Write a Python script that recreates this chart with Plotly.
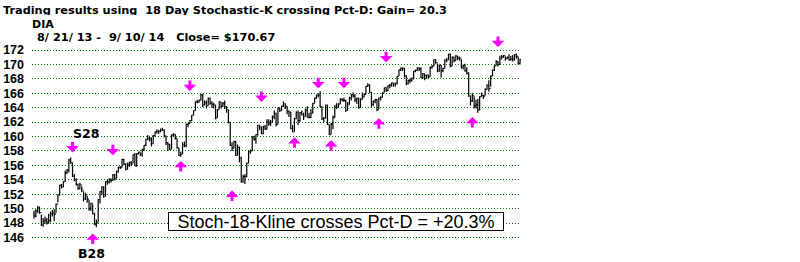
import plotly.graph_objects as go

# ---- DIA daily bars, 8/21/13 - 9/10/14 ----
opens = [149.30, 148.98, 149.64, 150.11, 149.46, 147.76, 148.25, 148.41,
         148.10, 148.34, 149.31, 149.37, 149.23, 150.63, 151.91, 153.27, 153.01, 153.76, 154.95, 155.30,
         156.77, 156.37, 154.51, 154.01, 153.35, 152.73, 153.28, 152.58,
         151.30, 151.92, 151.33, 149.96, 150.73, 149.36, 147.77, 148.03, 151.26, 152.37, 153.01, 151.68,
         153.74, 153.72, 154.00, 153.92, 154.68, 154.13, 155.09, 155.70, 155.69, 156.80, 156.18,
         155.46, 156.16, 156.39, 156.19, 157.47, 155.94, 157.62, 157.83, 157.51, 158.22, 158.76, 159.62,
         159.76, 159.67, 159.01, 160.10, 160.65, 160.73, 160.73, 160.97,
         160.86, 160.09, 159.15, 158.90, 158.22, 160.20, 160.26, 159.73, 158.44, 157.39, 157.55, 158.85,
         158.75, 161.68, 161.79, 162.21, 162.95, 163.58, 164.80, 164.78, 165.04,
         165.77, 164.41, 164.70, 164.25, 165.31, 164.63, 164.45, 164.37, 162.58, 163.74, 164.82, 164.17,
         164.59, 164.14, 163.73, 161.97, 158.79, 158.38, 159.29, 157.39, 158.49,
         156.99, 153.73, 154.45, 154.40, 156.29, 157.94, 158.02, 159.95, 159.64, 160.28, 161.54, 161.30,
         160.41, 161.33, 161.03, 162.07, 161.80, 161.98, 162.73,
         163.22, 161.68, 163.96, 163.60, 164.22, 164.53, 164.19, 163.51, 163.40, 161.09, 160.66, 162.47,
         163.36, 162.22, 163.31, 163.03, 162.77, 163.68, 162.69, 162.64, 163.23,
         164.58, 165.33, 165.73, 165.73, 164.13, 162.46, 162.56, 164.37, 161.70, 160.27, 161.73, 162.63,
         164.25, 164.09, 164.49, 165.14, 165.02, 165.02, 163.61, 164.49, 165.35,
         165.81, 165.59, 165.13, 165.31, 164.01, 165.19, 165.51, 165.83, 166.95, 167.15, 166.14, 164.47,
         164.91, 165.12, 163.74, 165.33, 165.43, 166.06, 166.76, 166.33, 166.99,
         167.17, 167.44, 167.22, 167.38, 168.36, 169.24, 169.43, 169.46, 168.44, 167.34, 167.76, 167.81,
         168.08, 169.07, 169.21, 169.47, 169.37, 168.18, 168.68, 168.46, 168.52,
         168.27, 169.56, 169.76, 170.68, 170.24, 169.07, 169.86, 169.15, 169.44, 170.55, 170.61, 171.38,
         169.77, 171.00, 170.52, 171.14, 170.87, 170.84, 169.61, 169.83, 169.12, 168.80,
         165.63, 164.93, 165.69, 164.29, 164.43, 163.68, 165.54, 165.70, 165.61, 166.52, 167.14, 166.63,
         168.39, 169.20, 169.79, 170.39, 170.01, 170.77, 171.07, 171.22, 170.80,
         170.98, 170.68, 170.78, 170.70, 171.37, 171.11, 170.14]

highs = [149.7, 149.9, 150.4, 150.3, 149.2, 148.7, 148.9, 148.7,
         149.3, 149.6, 149.8, 149.9, 150.7, 152.0, 153.3, 153.4, 153.8, 155.3, 155.5, 156.9,
         157.1, 156.4, 154.8, 154.2, 153.5, 153.6, 153.1, 152.4,
         152.2, 151.8, 151.2, 150.8, 150.6, 149.4, 148.5, 151.3, 152.4, 153.1, 153.1, 153.8,
         154.0, 154.2, 154.2, 154.8, 154.8, 155.3, 155.8, 155.9, 156.9, 156.9, 156.3,
         156.4, 156.5, 156.6, 157.5, 157.7, 157.7, 157.9, 157.8, 158.3, 158.8, 159.7,
         160.2, 160.0, 159.9, 160.2, 160.7, 161.0, 160.9, 161.1, 161.2,
         161.0, 160.1, 159.2, 159.0, 160.3, 160.5, 160.4, 159.7, 158.4, 157.9, 159.2,
         159.3, 161.8, 161.9, 162.3, 163.0, 163.6, 164.9, 165.1, 165.1, 165.9,
         165.9, 165.0, 165.0, 165.4, 165.4, 164.9, 164.7, 164.4, 163.8, 164.9, 164.8,
         164.8, 165.0, 164.2, 163.7, 162.0, 159.2, 159.4, 159.4, 158.9, 158.6,
         157.2, 154.7, 154.8, 156.4, 158.0, 158.2, 160.0, 160.1, 160.3, 161.6, 161.6,
         161.4, 161.5, 161.6, 162.4, 162.4, 162.3, 162.9, 163.6,
         163.3, 164.0, 164.0, 164.3, 164.9, 164.6, 164.2, 163.6, 163.4, 161.6, 162.6,
         163.5, 163.6, 163.4, 163.6, 163.3, 163.9, 164.2, 163.3, 163.8, 164.7,
         165.4, 165.8, 166.0, 166.3, 164.2, 162.7, 164.4, 164.4, 161.7, 161.9, 162.9,
         164.3, 164.6, 164.6, 165.3, 165.3, 165.4, 165.1, 164.8, 165.5, 165.9,
         166.1, 165.9, 165.4, 165.4, 165.3, 166.1, 166.0, 167.0, 167.4, 167.2, 166.2,
         165.0, 165.2, 165.2, 165.4, 165.6, 166.1, 166.8, 166.9, 167.1, 167.3,
         167.5, 167.4, 167.5, 168.4, 169.3, 169.6, 169.6, 169.5, 168.5, 167.9, 168.0,
         168.2, 169.1, 169.3, 169.6, 169.6, 169.6, 168.8, 168.7, 168.6, 168.6,
         169.7, 169.9, 170.7, 170.7, 170.1, 170.0, 169.9, 169.5, 170.7, 170.9, 171.5,
         171.5, 171.1, 171.1, 171.3, 171.2, 171.1, 170.7, 170.0, 170.1, 169.6, 168.9,
         165.7, 166.0, 165.6, 165.1, 165.2, 165.6, 166.1, 165.8, 166.7, 167.2, 167.8,
         168.5, 169.3, 169.9, 170.6, 170.4, 171.2, 171.3, 171.3, 171.1, 171.1,
         171.4, 171.2, 171.3, 171.4, 171.5, 171.1, 170.8]

lows = [148.6, 148.8, 149.4, 149.3, 147.6, 147.5, 147.9, 147.8,
        147.9, 148.1, 148.9, 148.3, 149.4, 150.9, 151.8, 152.8, 153.0, 153.7, 154.8, 155.0,
        156.2, 154.4, 153.8, 153.2, 152.6, 152.7, 152.3, 151.0,
        151.2, 150.8, 149.7, 149.7, 149.2, 147.7, 147.4, 148.1, 150.7, 151.9, 151.5, 151.7,
        153.3, 153.5, 153.6, 153.9, 153.9, 154.2, 155.0, 155.5, 155.7, 156.0, 155.3,
        155.4, 155.8, 155.9, 156.3, 155.9, 155.8, 157.5, 157.3, 157.2, 158.0, 158.7,
        159.5, 159.3, 158.6, 159.0, 160.0, 160.4, 160.4, 160.6, 160.8,
        159.9, 158.8, 158.0, 158.1, 158.3, 160.0, 159.6, 158.3, 157.3, 157.2, 157.6,
        158.5, 158.5, 161.3, 161.8, 162.2, 162.9, 163.6, 164.6, 164.7, 165.0,
        164.1, 164.3, 163.9, 164.3, 164.4, 164.0, 163.9, 162.4, 162.6, 163.8, 163.9,
        164.1, 163.8, 163.3, 161.8, 158.7, 158.0, 158.4, 157.3, 157.4, 156.4,
        153.6, 153.6, 153.4, 154.4, 156.3, 157.6, 158.0, 159.4, 159.0, 160.1, 160.9,
        160.3, 160.3, 160.9, 161.0, 161.5, 161.5, 161.9, 162.4,
        161.4, 161.7, 163.4, 163.6, 164.1, 163.8, 163.1, 162.7, 161.0, 160.6, 160.7,
        162.4, 161.6, 162.0, 162.9, 162.3, 162.8, 162.6, 162.5, 162.6, 163.2,
        164.6, 165.2, 165.4, 164.1, 162.3, 162.0, 162.5, 161.6, 160.2, 160.3, 161.0,
        162.6, 163.8, 164.1, 164.5, 164.9, 164.8, 163.4, 163.6, 164.4, 165.0,
        165.4, 164.8, 164.5, 163.9, 164.0, 165.1, 165.4, 165.9, 166.9, 166.0, 164.1,
        164.2, 164.6, 163.5, 163.8, 165.0, 165.4, 166.1, 166.2, 166.3, 166.7,
        166.9, 166.9, 166.9, 167.2, 168.4, 169.1, 169.1, 168.2, 167.1, 167.2, 167.4,
        167.6, 167.9, 168.9, 169.1, 169.1, 168.1, 168.0, 167.8, 168.0, 168.0,
        168.3, 169.4, 169.7, 170.1, 168.9, 169.0, 168.2, 168.9, 169.5, 170.3, 170.6,
        169.6, 169.8, 170.3, 170.5, 170.6, 170.5, 169.4, 169.3, 169.0, 168.6, 165.5,
        164.3, 164.8, 163.9, 163.9, 163.3, 163.6, 165.5, 165.2, 165.7, 166.5, 166.2,
        166.9, 168.4, 169.1, 169.8, 169.7, 170.0, 170.8, 170.9, 170.5, 170.7,
        170.5, 170.5, 170.4, 170.5, 170.8, 170.0, 170.0]

closes = [148.98, 149.64, 150.11, 149.46, 147.76, 148.25, 148.41, 148.10,
          148.34, 149.31, 149.37, 149.23, 150.63, 151.91, 153.27, 153.01, 153.76, 154.95, 155.30, 156.77,
          156.37, 154.51, 154.01, 153.35, 152.73, 153.28, 152.58, 151.30,
          151.92, 151.33, 149.96, 150.73, 149.36, 147.77, 148.03, 151.26, 152.37, 153.01, 151.68, 153.74,
          153.72, 154.00, 153.92, 154.68, 154.13, 155.09, 155.70, 155.69, 156.80, 156.18, 155.46,
          156.16, 156.39, 156.19, 157.47, 155.94, 157.62, 157.83, 157.51, 158.22, 158.76, 159.62,
          159.76, 159.67, 159.01, 160.10, 160.65, 160.73, 160.73, 160.97, 160.86,
          160.09, 159.15, 158.90, 158.22, 160.20, 160.26, 159.73, 158.44, 157.39, 157.55, 158.85,
          158.75, 161.68, 161.79, 162.21, 162.95, 163.58, 164.80, 164.78, 165.04, 165.77,
          164.41, 164.70, 164.25, 165.31, 164.63, 164.45, 164.37, 162.58, 163.74, 164.82, 164.17,
          164.59, 164.14, 163.73, 161.97, 158.79, 158.38, 159.29, 157.39, 158.49, 156.99,
          153.73, 154.45, 154.40, 156.29, 157.94, 158.02, 159.95, 159.64, 160.28, 161.54, 161.30,
          160.41, 161.33, 161.03, 162.07, 161.80, 161.98, 162.73, 163.22,
          161.68, 163.96, 163.60, 164.22, 164.53, 164.19, 163.51, 163.40, 161.09, 160.66, 162.47,
          163.36, 162.22, 163.31, 163.03, 162.77, 163.68, 162.69, 162.64, 163.23, 164.58,
          165.33, 165.73, 165.73, 164.13, 162.46, 162.56, 164.37, 161.70, 160.27, 161.73, 162.63,
          164.25, 164.09, 164.49, 165.14, 165.02, 165.02, 163.61, 164.49, 165.35, 165.81,
          165.59, 165.13, 165.31, 164.01, 165.19, 165.51, 165.83, 166.95, 167.15, 166.14, 164.47,
          164.91, 165.12, 163.74, 165.33, 165.43, 166.06, 166.76, 166.33, 166.99, 167.17,
          167.44, 167.22, 167.38, 168.36, 169.24, 169.43, 169.46, 168.44, 167.34, 167.76, 167.81,
          168.08, 169.07, 169.21, 169.47, 169.37, 168.18, 168.68, 168.46, 168.52, 168.27,
          169.56, 169.76, 170.68, 170.24, 169.07, 169.86, 169.15, 169.44, 170.55, 170.61, 171.38,
          169.77, 171.00, 170.52, 171.14, 170.87, 170.84, 169.61, 169.83, 169.12, 168.80, 165.63,
          164.93, 165.69, 164.29, 164.43, 163.68, 165.54, 165.70, 165.61, 166.52, 167.14, 166.63,
          168.39, 169.20, 169.79, 170.39, 170.01, 170.77, 171.07, 171.22, 170.80, 170.98,
          170.68, 170.78, 170.70, 171.37, 171.11, 170.14, 170.67]

# signal arrows: bar index and arrow-tip price
sell_idx = [21, 43, 85, 124, 155, 169, 192, 253]
sell_tip = [157.8, 157.4, 166.3, 164.8, 166.7, 166.7, 170.3, 172.4]
buy_idx = [32, 80, 108, 142, 162, 188, 239]
buy_tip = [146.55, 156.6, 152.5, 159.9, 159.5, 162.55, 162.7]

y_ticks = list(range(146, 174, 2))

title_text = "Trading results using  18 Day Stochastic-K crossing Pct-D: Gain= 20.3"
symbol_text = "DIA"
range_text = "8/ 21/ 13 -  9/ 10/ 14   Close= $170.67"
box_text = "Stoch-18-Kline crosses Pct-D = +20.3%"

# ---- layout geometry (pixels) ----
W, H = 800, 262
ML, MR, MT, MB = 32, 279, 40, 18
PW, PH = W - ML - MR, H - MT - MB


def px(x):
    return (x - ML) / PW


def py(y):
    return (H - MB - y) / PH


idx = list(range(len(closes)))
ARROW = "#FF00FF"
FONT = "Liberation Sans, Arial, sans-serif"
HEAD_FONT = "DejaVu Sans, Verdana, sans-serif"

fig = go.Figure()
fig.add_trace(go.Ohlc(
    x=idx, open=opens, high=highs, low=lows, close=closes,
    increasing=dict(line=dict(color="black", width=1.2)),
    decreasing=dict(line=dict(color="black", width=1.2)),
    tickwidth=0.5, hoverinfo="skip", showlegend=False,
))

ann = []
for i, p in zip(sell_idx, sell_tip):
    ann.append(dict(x=i, y=p, xref="x", yref="y", text="", showarrow=True,
                    ax=0, ay=-12, arrowhead=1, arrowsize=0.7, arrowwidth=3,
                    arrowcolor=ARROW, standoff=0))
for i, p in zip(buy_idx, buy_tip):
    ann.append(dict(x=i, y=p, xref="x", yref="y", text="", showarrow=True,
                    ax=0, ay=12, arrowhead=1, arrowsize=0.7, arrowwidth=3,
                    arrowcolor=ARROW, standoff=0))

ann += [
    dict(x=px(2), y=py(10), xref="paper", yref="paper", text=title_text,
         showarrow=False, xanchor="left", yanchor="middle", height=10, borderpad=0,
         font=dict(family=HEAD_FONT, size=11.3, color="black", weight="bold")),
    dict(x=px(31), y=py(23.5), xref="paper", yref="paper", text=symbol_text,
         showarrow=False, xanchor="left", yanchor="middle", height=10, borderpad=0,
         font=dict(family=HEAD_FONT, size=11, color="black", weight="bold")),
    dict(x=px(36), y=py(36.5), xref="paper", yref="paper", text=range_text,
         showarrow=False, xanchor="left", yanchor="middle", height=10, borderpad=0,
         font=dict(family=HEAD_FONT, size=11.3, color="black", weight="bold")),
    dict(x=px(85.5), y=py(133), xref="paper", yref="paper", text="S28",
         showarrow=False, xanchor="center", yanchor="middle",
         font=dict(family=HEAD_FONT, size=12.5, color="black", weight="bold")),
    dict(x=px(91.5), y=py(253), xref="paper", yref="paper", text="B28",
         showarrow=False, xanchor="center", yanchor="middle",
         font=dict(family=HEAD_FONT, size=12.5, color="black", weight="bold")),
    dict(x=px(336), y=py(221.5), xref="paper", yref="paper", text=box_text,
         showarrow=False, xanchor="center", yanchor="middle",
         width=332, height=15, borderpad=1, borderwidth=1, bordercolor="black",
         bgcolor="white", font=dict(family=FONT, size=18, color="black")),
]

px_per_bar = 1.834
x0 = -(34 - ML) / px_per_bar
x1 = x0 + PW / px_per_bar
px_per_unit = 7.21
y_top = 172 + (50 - MT) / px_per_unit
y_bot = y_top - PH / px_per_unit

fig.update_layout(
    width=W, height=H, margin=dict(l=ML, r=MR, t=MT, b=MB, pad=0, autoexpand=False),
    paper_bgcolor="white", plot_bgcolor="white",
    annotations=ann, showlegend=False,
    xaxis=dict(range=[x0, x1], showgrid=False, zeroline=False, showticklabels=False,
               showline=False, ticks="", rangeslider=dict(visible=False), fixedrange=True,
               automargin=False),
    yaxis=dict(range=[y_bot, y_top], tickvals=y_ticks, ticktext=[str(v) for v in y_ticks],
               showgrid=True, gridcolor="#008000", griddash="1px,2px", gridwidth=1,
               zeroline=False, showline=False, ticks="", ticklabelstandoff=7,
               automargin=False,
               tickfont=dict(family=FONT, size=12.5, color="black", weight="bold"), fixedrange=True),
)

fig.write_html("out.html")
